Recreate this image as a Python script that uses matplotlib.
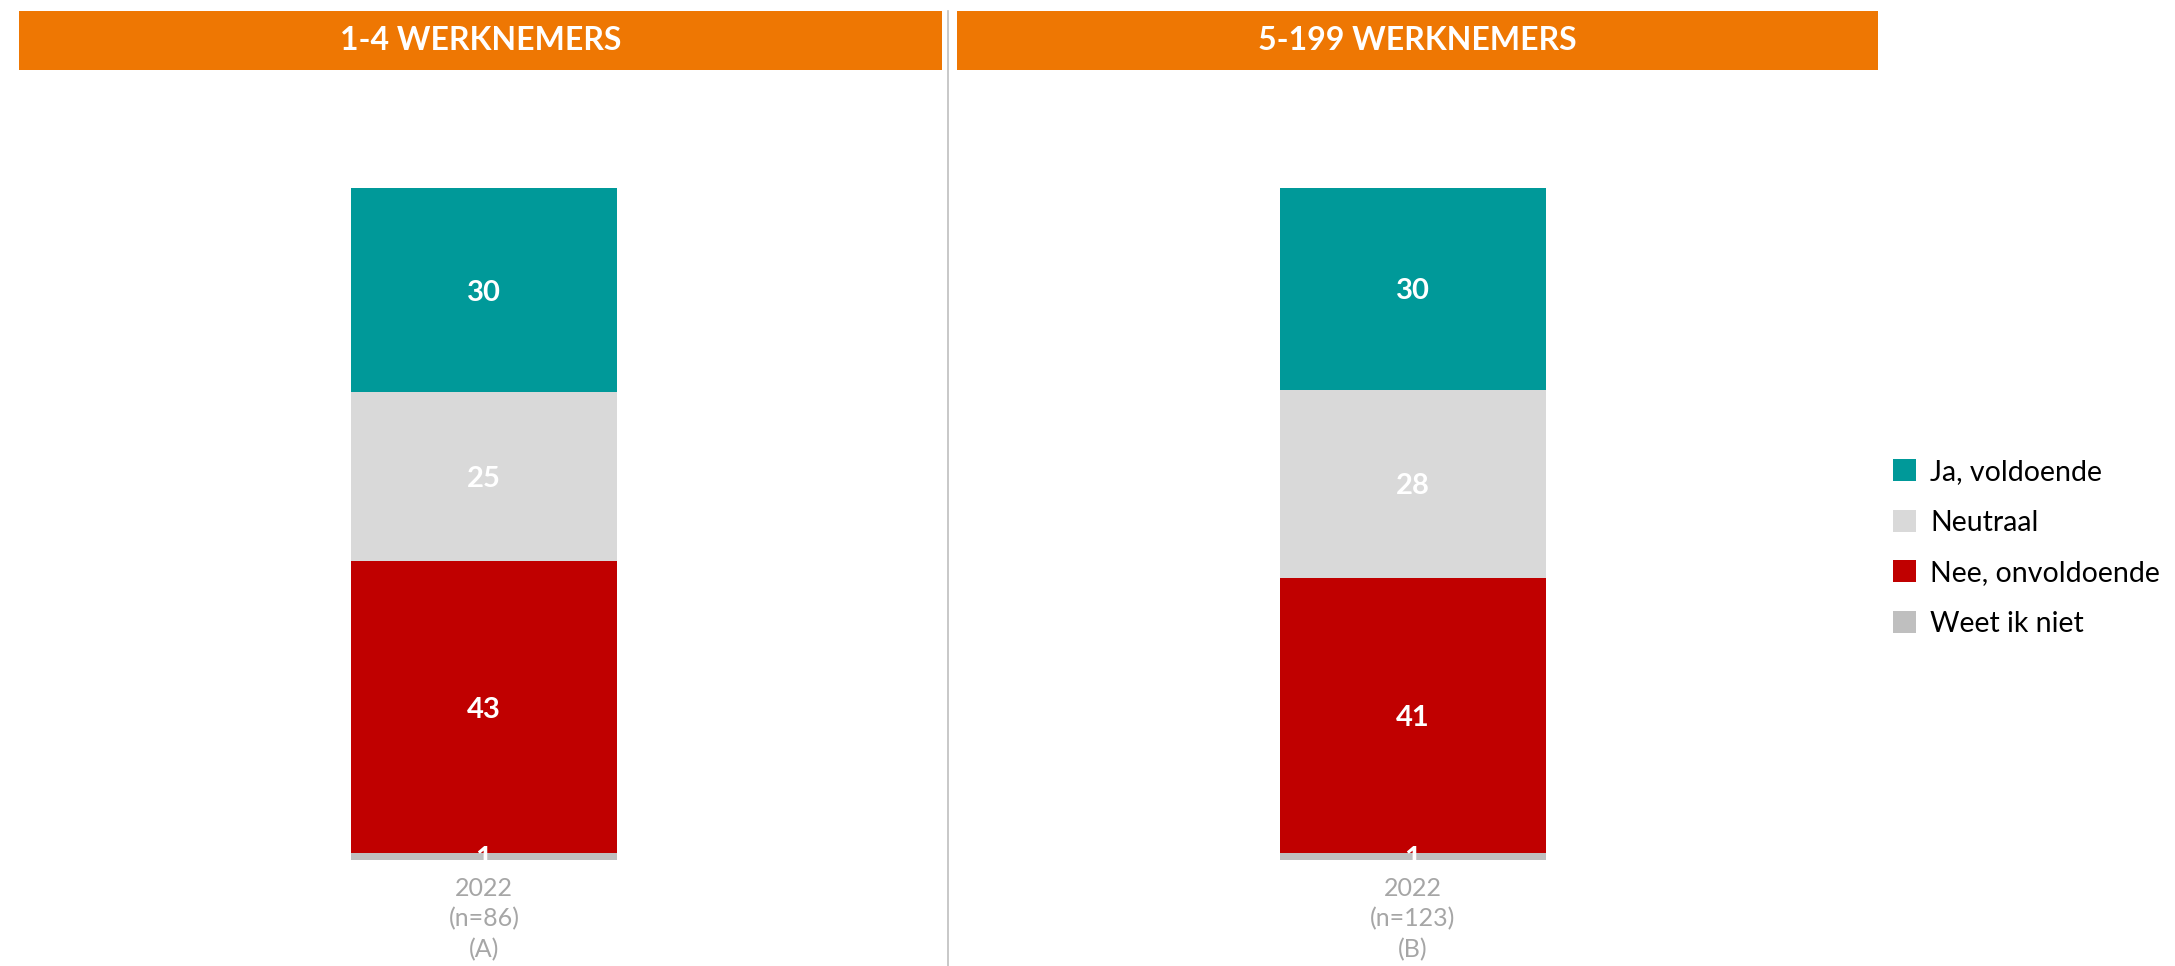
import matplotlib.pyplot as plt
from matplotlib.patches import Patch

plt.rcParams['font.family'] = ['Lato', 'DejaVu Sans']

# data
panels = ["1-4 WERKNEMERS", "5-199 WERKNEMERS"]
tick_labels = ["2022\n(n=86)\n(A)", "2022\n(n=123)\n(B)"]
categories = ["Weet ik niet", "Nee, onvoldoende", "Neutraal", "Ja, voldoende"]  # bottom -> top
values_small = [1, 43, 25, 30]
values_large = [1, 41, 28, 30]
colors = ["#BFBFBF", "#C00000", "#D9D9D9", "#009999"]

W, H = 2175, 966
fig = plt.figure(figsize=(W / 100, H / 100), dpi=100)

# header boxes / axes placement in pixels: (left, right, bar centre)
layout = [(19, 942, 484), (957, 1878, 1413)]
bar_px = 266
bar_bottom, bar_top = 860, 188

for (left, right, centre), title, vals, tl in zip(layout, panels,
                                                 [values_small, values_large],
                                                 tick_labels):
    # orange header
    hax = fig.add_axes([left / W, 1 - 70 / H, (right - left) / W, 59 / H])
    hax.set_facecolor("#EE7703")
    hax.set_xticks([])
    hax.set_yticks([])
    for s in hax.spines.values():
        s.set_visible(False)
    hax.text(0.5, 0.5, title, color="white", fontsize=23, fontweight="bold",
             ha="center", va="center", transform=hax.transAxes)

    ax = fig.add_axes([left / W, 1 - bar_bottom / H, (right - left) / W,
                       (bar_bottom - bar_top) / H])
    total = sum(vals)
    shares = [v / total * 100 for v in vals]
    bottom = 0
    for v, s, c in zip(vals, shares, colors):
        ax.bar(0, s, bottom=bottom, width=1, color=c)
        ax.text(0, bottom + s / 2 - 0.4, str(v), color="white", fontsize=21,
                fontweight="bold", ha="center", va="center")
        bottom += s
    ax.set_ylim(0, 100)
    ax.set_xlim(-(centre - left) / bar_px, (right - centre) / bar_px)
    ax.set_yticks([])
    ax.set_xticks([0])
    ax.set_xticklabels([tl], fontsize=18, color="#A6A6A6", linespacing=1.4)
    ax.tick_params(axis="x", length=0, pad=12)
    for s in ax.spines.values():
        s.set_visible(False)

# divider line between panels
fig.add_artist(plt.Line2D([948 / W, 948 / W], [0, 1 - 11 / H],
                          color="#BFBFBF", lw=1.2))

handles = [Patch(facecolor=c, edgecolor="none") for c in colors[::-1]]
fig.legend(handles, categories[::-1], loc="center left",
           bbox_to_anchor=(1893 / W, 1 - 548 / H), frameon=False,
           fontsize=20.5, handlelength=0.8, handleheight=0.8,
           handletextpad=0.5, labelspacing=0.86, borderpad=0,
           borderaxespad=0)

fig.savefig("out.png", dpi=100)
